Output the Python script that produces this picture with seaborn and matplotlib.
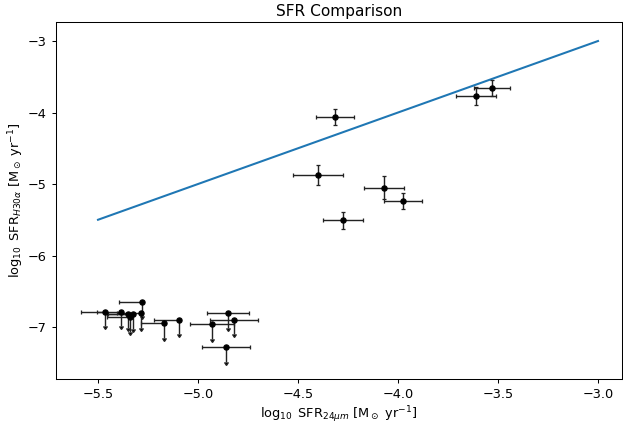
import numpy as np
import pandas as pd
import matplotlib
matplotlib.use("Agg")
import matplotlib.pyplot as plt
import seaborn as sns

# 1:1 reference line
line_x = [-5.5, -3.0]
line_y = [-5.5, -3.0]

# Detections
det_x = [-4.315, -4.40, -4.275, -4.07, -3.975, -3.61, -3.53]
det_y = [-4.063, -4.87, -5.51, -5.05, -5.24, -3.77, -3.66]
det_xerr = [0.097, 0.125, 0.10, 0.10, 0.095, 0.10, 0.09]
det_yerr = [0.117, 0.14, 0.12, 0.165, 0.11, 0.12, 0.11]

# Upper limits in H30alpha
lim_x = [-5.28, -5.467, -5.385, -5.352, -5.34, -5.327, -5.285, -5.168, -5.093,
         -4.852, -4.822, -4.932, -4.86]
lim_y = [-6.646, -6.786, -6.786, -6.814, -6.864, -6.823, -6.808, -6.948, -6.902,
         -6.808, -6.902, -6.962, -7.284]
lim_xerr_lo = [0.117, 0.12, 0.12, 0.10, 0.115, 0.13, 0.12, 0.117, 0.125,
               0.105, 0.12, 0.11, 0.122]
lim_xerr_hi = [0.0, 0.0, 0.0, 0.0, 0.0, 0.0, 0.0, 0.0, 0.0,
               0.105, 0.12, 0.11, 0.122]
lim_yerr = [0.2] * len(lim_x)

DPI = 92.5
fig = plt.figure(figsize=(623 / DPI, 424 / DPI), dpi=DPI)
ax = fig.add_axes([56 / 623, 1 - 379 / 424, (622 - 56) / 623, (379 - 22) / 424])

sns.lineplot(x=line_x, y=line_y, ax=ax, color="#1f77b4", linewidth=1.6)

ax.errorbar(det_x, det_y, xerr=det_xerr, yerr=det_yerr, fmt="o", color="black",
            ecolor="#222222", elinewidth=1.1, capsize=1.6, markersize=4, zorder=3)
ax.errorbar(lim_x, lim_y, xerr=[lim_xerr_lo, lim_xerr_hi], yerr=lim_yerr, uplims=True,
            fmt="o", color="black", ecolor="#222222", elinewidth=1.1, capsize=1.6,
            markersize=4, zorder=3)

ax.set_xlim(-5.71, -2.88)
ax.set_ylim(-7.727, -2.734)
ax.set_xticks([-5.5, -5.0, -4.5, -4.0, -3.5, -3.0])
ax.set_yticks([-7, -6, -5, -4, -3])
ax.set_title("SFR Comparison", pad=5)
ax.set_xlabel(r"$\log_{10}$ SFR$_{24\mu m}$ [M$_\odot$ yr$^{-1}$]", labelpad=2.5)
ax.set_ylabel(r"$\log_{10}$ SFR$_{H30\alpha}$ [M$_\odot$ yr$^{-1}$]", labelpad=1.5)

fig.savefig("out.png", dpi=DPI)
